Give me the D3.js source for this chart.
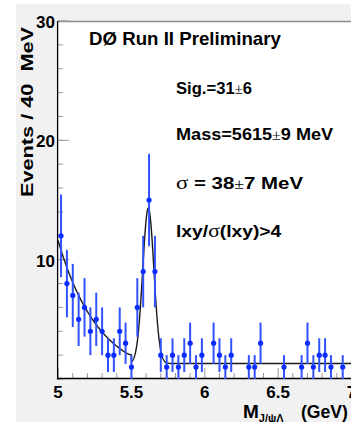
<!DOCTYPE html>
<html>
<head>
<meta charset="utf-8">
<script src="https://cdn.jsdelivr.net/npm/d3@7"></script>
<style>
  body { margin: 0; background: #fff; }
  svg { display: block; font-family: "Liberation Sans", Arial, sans-serif; }
  .lbl { font-weight: bold; fill: #000; white-space: pre; }
  .sym { font-family: "Liberation Serif", "DejaVu Serif", serif; font-weight: normal; }
</style>
</head>
<body>
<div id="chart"></div>
<script>
// histogram: 40 MeV bins from 5.0 to 7.0 GeV
const binLow = 5.0;
const binWidth = 0.04;
const counts = [12, 8, 7, 5, 6, 4, 5, 4, 2, 2,
                4, 3, 1, 6, 9, 15, 9, 2, 1, 2,
                1, 2, 3, 1, 2, 0, 3, 2, 1, 2,
                0, 0, 1, 1, 3, 0, 0, 0, 1, 0,
                0, 1, 3, 1, 2, 2, 1, 0, 1, 0];
const xTicks = [5, 5.5, 6, 6.5, 7];
const yTicks = [10, 20, 30];

// fit: gaussian signal + background (exponential below threshold, flat above)
const fitSig = 31;
const fitMass = 5.615;
const fitSigma = 0.038;
const bgA = 11.6, bgB = 3.6, bgC = 1.3, bgThr = 5.5;

const width = 351;
const height = 422;

const svg = d3.select("#chart")
    .append("svg")
    .attr("width", width)
    .attr("height", height);

// grey canvas
svg.append("rect")
    .attr("x", 16).attr("y", 4)
    .attr("width", width - 16).attr("height", height - 4)
    .attr("fill", "#f1f1f1");

const xScale = d3.scaleLinear()
    .domain([5, 7])
    .range([58.1, 351.5]);

const yScale = d3.scaleLinear()
    .domain([0, 30])
    .range([379, 21]);

svg.append("rect")
    .attr("x", xScale(5)).attr("y", yScale(30))
    .attr("width", xScale(7) - xScale(5)).attr("height", yScale(0) - yScale(30))
    .attr("fill", "#fff");

// top frame
svg.append("line")
    .attr("x1", xScale(5)).attr("x2", width)
    .attr("y1", yScale(30) + 0.5).attr("y2", yScale(30) + 0.5)
    .attr("stroke", "#8a8a8a").attr("stroke-width", 1.5);

// x ticks (inward)
const xMinor = d3.range(21).map(i => 5 + i * 0.1);
svg.append("g").selectAll("line")
    .data(xMinor)
    .enter()
    .append("line")
        .attr("x1", d => xScale(d)).attr("x2", d => xScale(d))
        .attr("y1", yScale(0))
        .attr("y2", d => yScale(0) - (Math.abs(d * 2 - Math.round(d * 2)) < 1e-6 ? 11 : 6))
        .attr("stroke", "#9a9a9a").attr("stroke-width", 1);

// y ticks (inward)
const yMinor = d3.range(0, 31, 2);
svg.append("g").selectAll("line")
    .data(yMinor)
    .enter()
    .append("line")
        .attr("x1", xScale(5)).attr("x2", xScale(5) + 5)
        .attr("y1", d => yScale(d)).attr("y2", d => yScale(d))
        .attr("stroke", "#9a9a9a").attr("stroke-width", 1);
svg.append("g").selectAll("line")
    .data(yTicks)
    .enter()
    .append("line")
        .attr("x1", xScale(5)).attr("x2", xScale(5) + 11)
        .attr("y1", d => yScale(d)).attr("y2", d => yScale(d))
        .attr("stroke", "#9a9a9a").attr("stroke-width", 1);

// axis lines
svg.append("line")
    .attr("x1", xScale(5) - 0.5).attr("x2", xScale(5) - 0.5)
    .attr("y1", yScale(30)).attr("y2", yScale(0) + 0.5)
    .attr("stroke", "#000").attr("stroke-width", 1.3);
svg.append("line")
    .attr("x1", xScale(5) - 1).attr("x2", width)
    .attr("y1", yScale(0) - 0.5).attr("y2", yScale(0) - 0.5)
    .attr("stroke", "#000").attr("stroke-width", 1.3);

// tick labels
svg.append("g").selectAll("text")
    .data(xTicks)
    .enter()
    .append("text")
        .attr("class", "lbl")
        .attr("x", d => xScale(d))
        .attr("y", 398)
        .attr("text-anchor", "middle")
        .style("font-size", "17px")
        .text(d => d);

svg.append("g").selectAll("text")
    .data(yTicks)
    .enter()
    .append("text")
        .attr("class", "lbl")
        .attr("x", 55)
        .attr("y", d => yScale(d) + 7)
        .attr("text-anchor", "end")
        .style("font-size", "17px")
        .text(d => d);

// fit curve
const gAmp = fitSig * binWidth / (fitSigma * Math.sqrt(2 * Math.PI));
function fitFn(m) {
    const bg = m < bgThr ? bgA * Math.exp(-bgB * (m - 5)) : bgC;
    return bg + gAmp * Math.exp(-0.5 * Math.pow((m - fitMass) / fitSigma, 2));
}
const curveX = d3.range(0, 1001).map(i => 5 + i * 0.002);
const line = d3.line()
    .x(d => xScale(d))
    .y(d => yScale(fitFn(d)));
svg.append("path")
    .datum(curveX)
    .attr("d", line)
    .attr("fill", "none")
    .attr("stroke", "#1a1a1a")
    .attr("stroke-width", 1.4);

// data points
const hist = counts.map((c, i) => ({ m: binLow + (i + 0.5) * binWidth, n: c })).filter(d => d.n > 0);

svg.append("g").selectAll("line")
    .data(hist)
    .enter()
    .append("line")
        .attr("x1", d => xScale(d.m)).attr("x2", d => xScale(d.m))
        .attr("y1", d => yScale(d.n + Math.sqrt(d.n)))
        .attr("y2", d => yScale(Math.max(0, d.n - Math.sqrt(d.n))))
        .attr("stroke", "#3052ff").attr("stroke-width", 2);

svg.append("g").selectAll("circle")
    .data(hist)
    .enter()
    .append("circle")
        .attr("cx", d => xScale(d.m))
        .attr("cy", d => yScale(d.n))
        .attr("r", 2.6)
        .attr("fill", "#0a2cff");

// stretch a text horizontally so it spans the given width from x0
function stretch(t, x0, y0, w) {
    const bw = t.node().getBBox().width;
    t.attr("x", 0).attr("y", 0)
     .attr("transform", `translate(${x0},${y0}) scale(${w / bw},1)`);
}

// texts
const t0 = svg.append("text").attr("class", "lbl")
    .style("font-size", "18px")
    .text("DØ Run II Preliminary");
stretch(t0, 89, 45, 192);

const t1 = svg.append("text").attr("class", "lbl").style("font-size", "17px");
t1.append("tspan").text("Sig.=31");
t1.append("tspan").attr("class", "sym").style("font-size", "15px").text("±");
t1.append("tspan").text("6");
stretch(t1, 176, 94, 76);

const t2 = svg.append("text").attr("class", "lbl").style("font-size", "17px");
t2.append("tspan").text("Mass=5615");
t2.append("tspan").attr("class", "sym").style("font-size", "15px").text("±");
t2.append("tspan").text("9 MeV");
stretch(t2, 176, 140, 158);

const t3 = svg.append("text").attr("class", "lbl").style("font-size", "17px");
t3.append("tspan").attr("class", "sym").style("font-size", "19px").text("σ");
t3.append("tspan").text(" = 38");
t3.append("tspan").attr("class", "sym").style("font-size", "15px").text("±");
t3.append("tspan").text("7 MeV");
stretch(t3, 176, 189, 128);

const t4 = svg.append("text").attr("class", "lbl").style("font-size", "17px");
t4.append("tspan").text("lxy/");
t4.append("tspan").attr("class", "sym").style("font-size", "19px").text("σ");
t4.append("tspan").text("(lxy)>4");
stretch(t4, 176, 237, 106);

// axis titles
svg.append("text").attr("class", "lbl")
    .attr("transform", "rotate(-90)")
    .attr("x", -27).attr("y", 33)
    .attr("text-anchor", "end")
    .attr("textLength", 170)
    .attr("lengthAdjust", "spacingAndGlyphs")
    .style("font-size", "17px")
    .text("Events / 40  MeV");

const xt = svg.append("text").attr("class", "lbl").attr("x", 243).attr("y", 418).style("font-size", "19px");
xt.append("tspan").text("M");
xt.append("tspan").attr("dy", 4).style("font-size", "11px").text("J/ψΛ");
svg.append("text").attr("class", "lbl")
    .attr("x", 301).attr("y", 418)
    .attr("textLength", 47)
    .attr("lengthAdjust", "spacingAndGlyphs")
    .style("font-size", "19px")
    .text("(GeV)");
</script>
</body>
</html>
